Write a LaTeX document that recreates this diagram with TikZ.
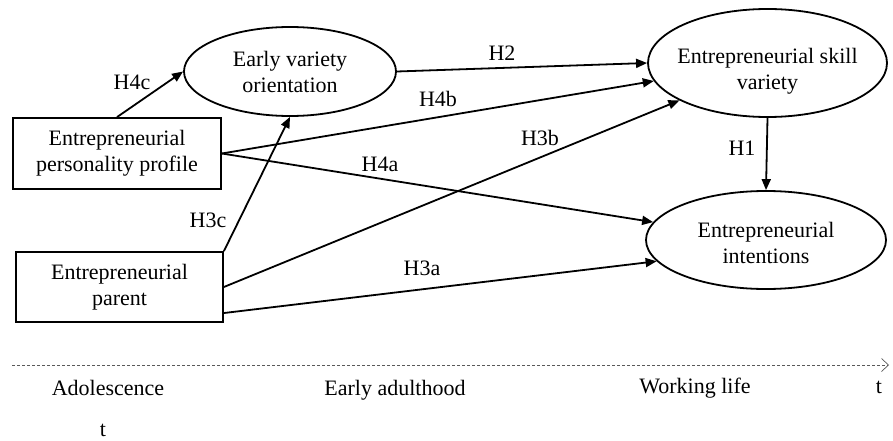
\documentclass[tikz,border=0pt]{standalone}
\usepackage{fontspec}
\setmainfont{Liberation Serif}
\usetikzlibrary{shapes.geometric,arrows.meta}
\begin{document}
\begin{tikzpicture}[x=1pt,y=1pt,
  every node/.style={font=\fontsize{22}{26}\selectfont},
  oval/.style={draw,ellipse,line width=1.8pt,inner sep=0pt},
  box/.style={draw,rectangle,line width=1.8pt,inner sep=0pt,align=center},
  lbl/.style={inner sep=0pt,align=center},
  conn/.style={line width=1.8pt,-{Triangle[length=11pt,width=9pt]}},
  timeline/.style={gray!70!black,line width=0.7pt,dash pattern=on 3pt off 2pt,-{Straight Barb[length=7pt,width=13pt,line width=0.7pt]}}]
\useasboundingbox (0,0) rectangle (893,-441);
% ellipses
\node[oval,minimum width=212pt,minimum height=89pt] (e1) at (290,-71.5) {};
\node[lbl] (t1) at (290,-71.5) {Early variety\\orientation};
\node[oval,minimum width=239pt,minimum height=108pt] (e2) at (767.5,-63) {};
\node[lbl] (t2) at (767.5,-71) {Entrepreneurial skill\\variety};
\node[oval,minimum width=240pt,minimum height=98pt] (e3) at (766,-240) {};
\node[lbl] (t3) at (766,-243) {Entrepreneurial\\intentions};
% boxes
\node[box,minimum width=208pt,minimum height=71pt] (r1) at (117,-153.5) {Entrepreneurial\\personality profile};
\node[box,minimum width=207pt,minimum height=70pt] (r2) at (119.5,-287) {Entrepreneurial\\parent};
% connectors
\draw[conn] (r1.north) -- (e1.west);
\draw[conn] (r2.north east) -- (e1.south);
\draw[conn] (e1.east) -- (e2.west);
\draw[conn] (r1.east) -- (e2.189.4);
\draw[conn] (r1.east) -- (e3.171.4);
\draw[conn] (r2.east) -- (e2.203.4);
\draw[conn] (r2.-14.1) -- (e3.191.5);
\draw[conn] (e2.south) -- (e3.north);
% labels
\node[lbl] (h4c) at (132,-82) {H4c};
\node[lbl] (h3c) at (208,-220) {H3c};
\node[lbl] (h2) at (502,-53) {H2};
\node[lbl] (h4b) at (438,-99) {H4b};
\node[lbl] (h4a) at (380,-164) {H4a};
\node[lbl] (h3b) at (540,-138) {H3b};
\node[lbl] (h3a) at (422,-268) {H3a};
\node[lbl] (h1) at (742,-148) {H1};
% timeline
\coordinate (ts) at (12,-365);
\coordinate (te) at (889,-365);
\draw[timeline] (ts) -- (te);
\node[lbl,anchor=base] (adol) at (108,-395) {Adolescence};
\node[lbl,anchor=base] (early) at (395,-395) {Early adulthood};
\node[lbl,anchor=base] (work) at (695,-393) {Working life};
\node[lbl,anchor=base] (tr) at (879,-393) {t};
\node[lbl,anchor=base] (tb) at (103,-436) {t};
\end{tikzpicture}
\end{document}
